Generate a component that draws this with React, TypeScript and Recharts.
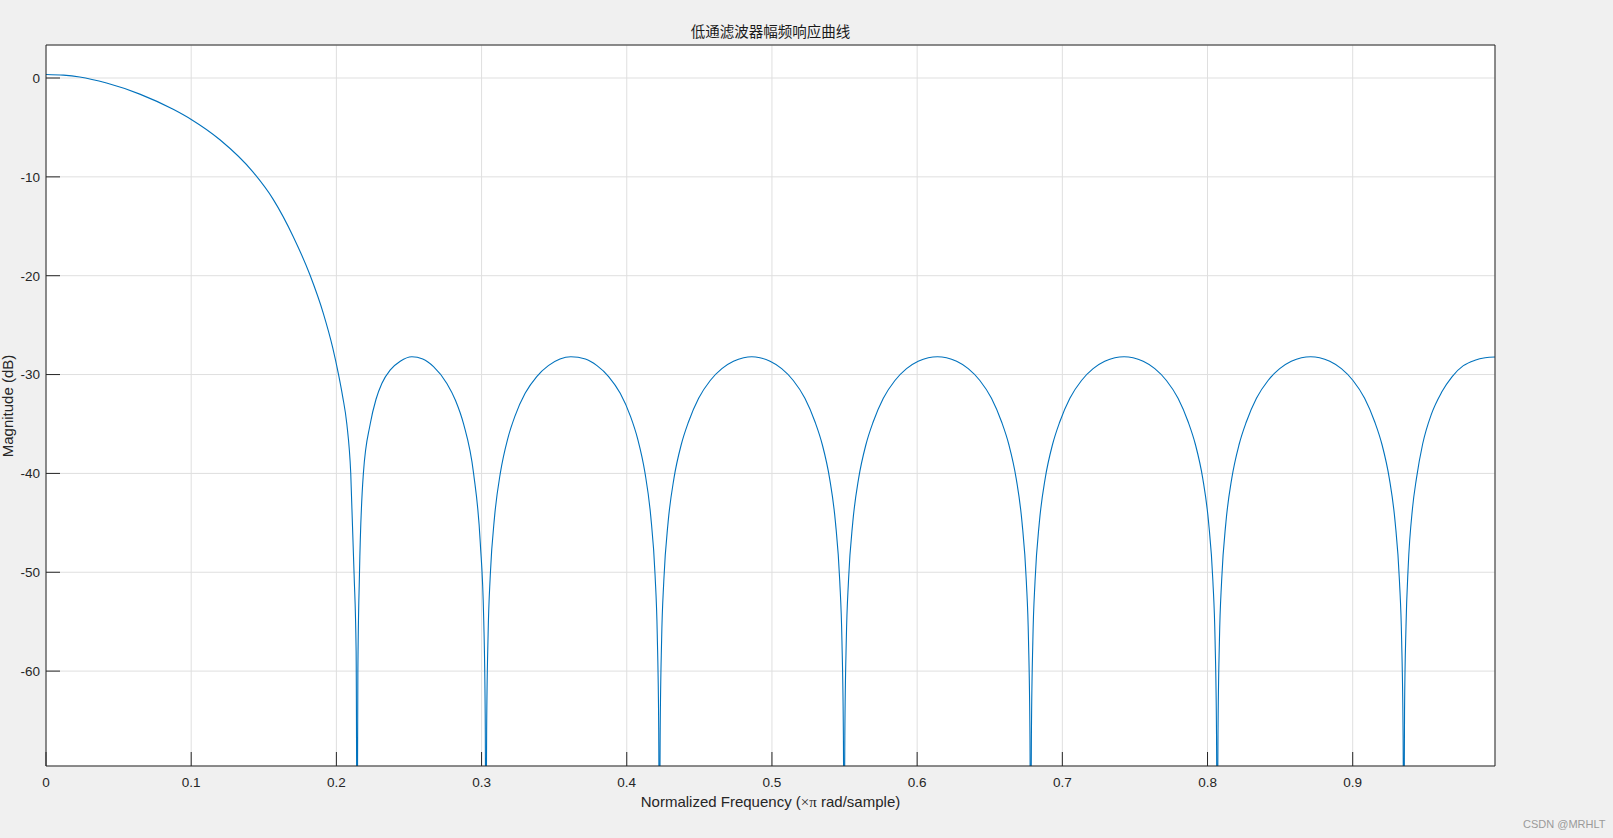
import { LineChart, Line, XAxis, YAxis, CartesianGrid } from 'recharts'

// [normalized frequency (x pi rad/sample), magnitude dB]
const mainLobe: [number, number][] = [
  [0, 0.36], [0.012, 0.29], [0.0232, 0.1], [0.0417, -0.51], [0.0646, -1.63],
  [0.0876, -3.17], [0.1003, -4.22], [0.1198, -6.25], [0.1428, -9.55], [0.1566, -12.3],
  [0.1703, -16.05], [0.1819, -19.96], [0.191, -23.81], [0.1975, -27.3], [0.2015, -30.0],
  [0.2043, -32.2], [0.2072, -35.0], [0.2099, -40.0], [0.2122, -50.2], [0.2136, -58],
  [0.2143, -80],
]

const sidelobe1: [number, number][] = [
  [0.2148, -60], [0.2159, -50.2], [0.2186, -40], [0.2233, -35], [0.2273, -32.5],
  [0.2313, -30.9], [0.237, -29.55], [0.244, -28.65], [0.252, -28.2], [0.2595, -28.43],
  [0.2669, -29.2], [0.2761, -30.9], [0.282, -32.6], [0.2876, -35], [0.2945, -40],
  [0.2991, -47], [0.3015, -54.9], [0.3025, -64.4], [0.303, -80],
]

const sidelobe2: [number, number][] = [
  [0.3035, -65.8], [0.3045, -56.3], [0.306, -50.3], [0.309, -44.3], [0.313, -39.9],
  [0.318, -36.5], [0.323, -34.2], [0.33, -31.9], [0.338, -30.2], [0.346, -29.1],
  [0.354, -28.43], [0.3615, -28.2], [0.3715, -28.43], [0.3795, -29.1], [0.3875, -30.2],
  [0.3955, -31.9], [0.4025, -34.2], [0.4075, -36.5], [0.4125, -39.9], [0.4165, -44.3],
  [0.4195, -50.3], [0.421, -56.3], [0.422, -65.8], [0.4225, -80],
]

const sidelobe3: [number, number][] = [
  [0.423, -66.5], [0.424, -56.9], [0.4255, -50.9], [0.4285, -44.9], [0.4325, -40.5],
  [0.4375, -37.1], [0.4425, -34.8], [0.4495, -32.4], [0.4575, -30.6], [0.4655, -29.4],
  [0.4735, -28.66], [0.4805, -28.3], [0.4861, -28.2], [0.4917, -28.3], [0.4987, -28.66],
  [0.5067, -29.4], [0.5147, -30.6], [0.5227, -32.4], [0.5297, -34.8], [0.5347, -37.1],
  [0.5397, -40.5], [0.5437, -44.9], [0.5467, -50.9], [0.5482, -56.9], [0.5492, -66.5],
  [0.5497, -80],
]

const sidelobe4: [number, number][] = [
  [0.5502, -66.5], [0.5512, -56.9], [0.5527, -50.9], [0.5557, -44.9], [0.5597, -40.5],
  [0.5647, -37.1], [0.5697, -34.8], [0.5767, -32.4], [0.5847, -30.6], [0.5927, -29.4],
  [0.6007, -28.66], [0.6077, -28.3], [0.614, -28.2], [0.6202, -28.3], [0.6272, -28.66],
  [0.6352, -29.4], [0.6432, -30.6], [0.6512, -32.4], [0.6582, -34.8], [0.6632, -37.1],
  [0.6682, -40.5], [0.6722, -44.9], [0.6752, -50.9], [0.6767, -56.9], [0.6777, -66.5],
  [0.6782, -80],
]

const sidelobe5: [number, number][] = [
  [0.6787, -66.5], [0.6797, -56.9], [0.6812, -50.9], [0.6842, -44.9], [0.6882, -40.5],
  [0.6932, -37.1], [0.6982, -34.8], [0.7052, -32.4], [0.7132, -30.6], [0.7212, -29.4],
  [0.7292, -28.66], [0.7362, -28.3], [0.7425, -28.2], [0.7487, -28.3], [0.7557, -28.66],
  [0.7637, -29.4], [0.7717, -30.6], [0.7797, -32.4], [0.7867, -34.8], [0.7917, -37.1],
  [0.7967, -40.5], [0.8007, -44.9], [0.8037, -50.9], [0.8052, -56.9], [0.8062, -66.5],
  [0.8067, -80],
]

const sidelobe6: [number, number][] = [
  [0.8072, -66.5], [0.8082, -56.9], [0.8097, -50.9], [0.8127, -44.9], [0.8167, -40.5],
  [0.8217, -37.1], [0.8267, -34.8], [0.8337, -32.4], [0.8417, -30.6], [0.8497, -29.4],
  [0.8577, -28.66], [0.8647, -28.3], [0.871, -28.2], [0.8772, -28.3], [0.8842, -28.66],
  [0.8922, -29.4], [0.9002, -30.6], [0.9082, -32.4], [0.9152, -34.8], [0.9202, -37.1],
  [0.9252, -40.5], [0.9292, -44.9], [0.9322, -50.9], [0.9337, -56.9], [0.9347, -66.5],
  [0.9352, -80],
]

const lastHalfLobe: [number, number][] = [
  [0.9357, -64], [0.9367, -55.5], [0.9382, -49.5], [0.9412, -43.5], [0.9439, -40.5],
  [0.9482, -37], [0.9542, -34], [0.9612, -31.8], [0.9685, -30.2], [0.9762, -29.1],
  [0.9842, -28.55], [0.9912, -28.3], [0.998, -28.22],
]

const xTicks = [0, 0.1, 0.2, 0.3, 0.4, 0.5, 0.6, 0.7, 0.8, 0.9]
const yTicks = [-60, -50, -40, -30, -20, -10, 0]

const title = '低通滤波器幅频响应曲线'
const yLabel = 'Magnitude (dB)'

const data = [
  ...mainLobe, ...sidelobe1, ...sidelobe2, ...sidelobe3,
  ...sidelobe4, ...sidelobe5, ...sidelobe6, ...lastHalfLobe,
].map(([f, db]) => ({ f, db }))

const axisColor = '#262626'
const tickFont = { fontSize: 13.5, fill: axisColor, fontFamily: '"Liberation Sans", Arial, sans-serif' }

export default function App() {
  return (
    <div
      style={{
        position: 'absolute',
        left: 0,
        top: 0,
        width: 1613,
        height: 838,
        background: '#f0f0f0',
        fontFamily: '"Liberation Sans", Arial, sans-serif',
        overflow: 'hidden',
      }}
    >
      <LineChart width={1613} height={838} data={data} margin={{ top: 44, right: 117, left: 0, bottom: 0 }}>
        <CartesianGrid stroke="#dfdfdf" fill="#ffffff" fillOpacity={1} />
        <XAxis
          dataKey="f"
          type="number"
          domain={[0, 0.998]}
          ticks={xTicks}
          allowDataOverflow
          height={72}
          tick={tickFont}
          tickSize={-14}
          tickMargin={25}
          stroke={axisColor}
          tickLine={{ stroke: axisColor }}
          axisLine={{ stroke: axisColor }}
        />
        <XAxis
          xAxisId="top"
          orientation="top"
          dataKey="f"
          type="number"
          domain={[0, 0.998]}
          ticks={xTicks}
          allowDataOverflow
          height={1}
          tick={false}
          tickSize={-14}
          tickLine={{ stroke: axisColor }}
          axisLine={{ stroke: axisColor }}
        />
        <YAxis
          type="number"
          domain={[-69.6, 3.34]}
          ticks={yTicks}
          allowDataOverflow
          width={46}
          tick={tickFont}
          tickSize={-14}
          tickMargin={20}
          tickLine={{ stroke: axisColor }}
          axisLine={{ stroke: axisColor }}
        />
        <YAxis
          yAxisId="right"
          orientation="right"
          type="number"
          domain={[-69.6, 3.34]}
          ticks={yTicks}
          allowDataOverflow
          width={1}
          tick={false}
          tickSize={-14}
          tickLine={{ stroke: axisColor }}
          axisLine={{ stroke: axisColor }}
        />
        <Line
          type="monotone"
          dataKey="db"
          stroke="#0072BD"
          strokeWidth={1.1}
          dot={false}
          activeDot={false}
          isAnimationActive={false}
        />
      </LineChart>

      <div
        style={{
          position: 'absolute',
          left: 46,
          top: 22,
          width: 1449,
          textAlign: 'center',
          fontSize: 14.5,
          lineHeight: '18px',
          color: '#1a1a1a',
          fontFamily: '"Noto Sans CJK SC", sans-serif',
        }}
      >
        {title}
      </div>
      <div
        style={{
          position: 'absolute',
          left: 46,
          top: 792,
          width: 1449,
          textAlign: 'center',
          fontSize: 15,
          lineHeight: '20px',
          color: axisColor,
        }}
      >
        Normalized Frequency (
        <span style={{ fontFamily: '"Liberation Serif", serif' }}>×π</span> rad/sample)
      </div>
      <div
        style={{
          position: 'absolute',
          left: -92,
          top: 396,
          width: 200,
          textAlign: 'center',
          fontSize: 15,
          lineHeight: '20px',
          color: axisColor,
          transform: 'rotate(-90deg)',
        }}
      >
        {yLabel}
      </div>
      <div
        style={{
          position: 'absolute',
          left: 1523,
          top: 817,
          fontSize: 11,
          lineHeight: '14px',
          color: '#9a9a9a',
        }}
      >
        CSDN @MRHLT
      </div>
    </div>
  )
}
